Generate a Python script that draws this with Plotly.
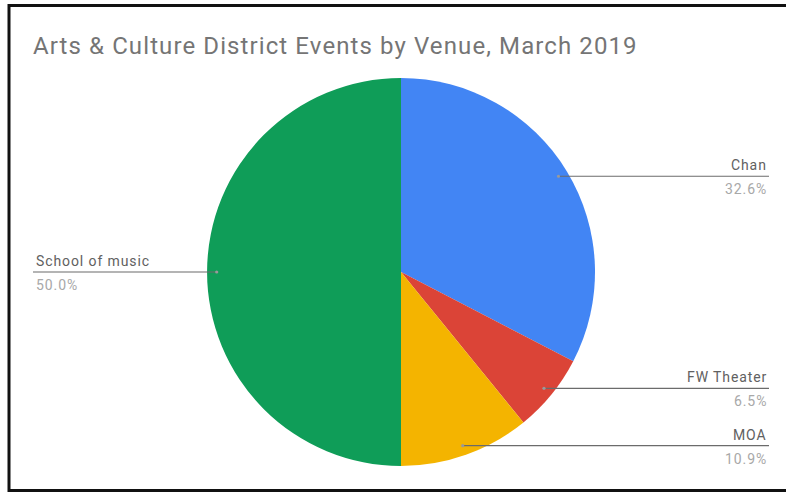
import math
import plotly.graph_objects as go

# Event counts per venue, March 2019
venues = ["Chan", "FW Theater", "MOA", "School of music"]
events = [15, 3, 5, 23]
colors = ["#4285F4", "#DB4437", "#F4B400", "#0F9D58"]
title_text = "Arts & Culture District Events by Venue, March 2019"

W, H = 786, 493
CX, CY, R = 401, 272, 194          # pie centre / radius in pixels (from top-left)
RIGHT_EDGE, LEFT_EDGE = 769, 34    # where the callout labels end / start


def px(x):
    return x / W


def py(y):
    return 1 - y / H


def spaced(text, spacing):
    return f'<span style="letter-spacing:{spacing}px">{text}</span>'


fig = go.Figure(
    go.Pie(
        labels=venues,
        values=events,
        marker=dict(colors=colors, line=dict(width=0)),
        sort=False,
        direction="clockwise",
        rotation=0,
        textinfo="none",
        hoverinfo="label+value+percent",
        showlegend=False,
        domain=dict(x=[px(CX - R), px(CX + R)], y=[py(CY + R), py(CY - R)]),
    )
)

shapes = []
annotations = []
total = sum(events)
cum = 0
for name, v in zip(venues, events):
    frac = v / total
    mid = (cum + frac / 2) * 2 * math.pi  # clockwise from 12 o'clock
    cum += frac
    dx, dy = math.sin(mid), -math.cos(mid)
    ax = CX + 0.95 * R * dx
    ay = CY + 0.95 * R * dy
    right = dx >= 0
    x_end = RIGHT_EDGE if right else LEFT_EDGE - 1
    # leader line
    shapes.append(dict(type="line", xref="paper", yref="paper",
                       x0=px(ax), y0=py(ay), x1=px(x_end), y1=py(ay),
                       line=dict(color="#6b6b6b", width=1.2)))
    # anchor dot on the slice
    shapes.append(dict(type="circle", xref="paper", yref="paper",
                       x0=px(ax - 1.6), x1=px(ax + 1.6),
                       y0=py(ay + 1.6), y1=py(ay - 1.6),
                       fillcolor="#9a9a9a", line=dict(width=0)))
    anchor = "right" if right else "left"
    tx = px(RIGHT_EDGE) if right else px(LEFT_EDGE)
    annotations.append(dict(text=spaced(name, 0.9), x=tx, y=py(ay - 1), xref="paper",
                            yref="paper", xanchor=anchor, yanchor="bottom", showarrow=False,
                            font=dict(family="Roboto", size=14, color="#616161")))
    annotations.append(dict(text=spaced(f"{frac * 100:.1f}%", 0.9), x=tx, y=py(ay + 3),
                            xref="paper", yref="paper", xanchor=anchor, yanchor="top",
                            showarrow=False,
                            font=dict(family="Roboto", size=14, color="#a8a8a8")))

# outer frame
shapes.append(dict(type="rect", xref="paper", yref="paper",
                   x0=px(9), x1=px(W + 10), y0=py(490.5), y1=py(5.5),
                   line=dict(color="#111111", width=3)))

fig.update_layout(
    width=W, height=H,
    margin=dict(l=0, r=0, t=0, b=0),
    paper_bgcolor="white",
    plot_bgcolor="white",
    title=dict(text=spaced(title_text, 1.1),
               x=px(33), xanchor="left", xref="paper",
               y=py(46), yanchor="middle", yref="paper",
               font=dict(family="Roboto", size=24, color="#757575")),
    shapes=shapes,
    annotations=annotations,
)

fig.write_html("out.html")
